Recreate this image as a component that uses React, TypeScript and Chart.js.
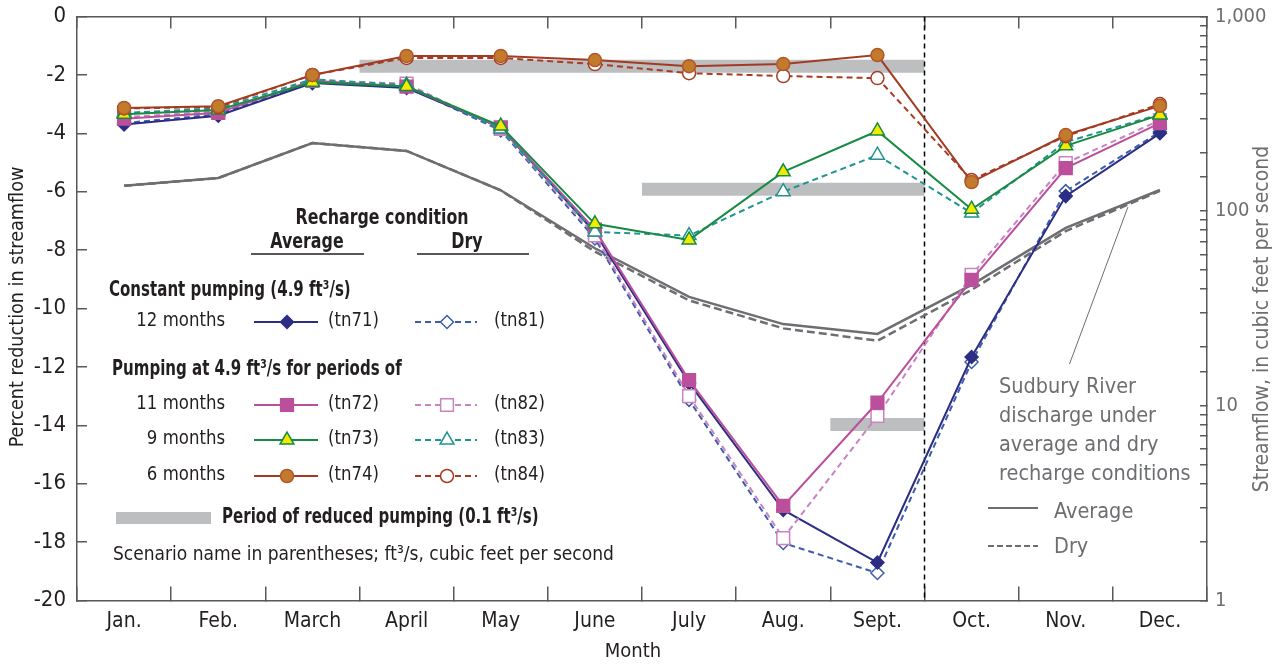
import React, { useEffect, useRef } from "react";
import { Chart, registerables } from "chart.js";

Chart.register(...registerables);

// ---------- data ----------
const months = ["Jan.", "Feb.", "March", "April", "May", "June", "July", "Aug.", "Sept.", "Oct.", "Nov.", "Dec."];

// Percent reduction in streamflow (left axis)
const tn71 = [-3.7, -3.4, -2.28, -2.45, -3.8, -7.4, -12.55, -16.9, -18.7, -11.66, -6.15, -4.0];
const tn81 = [-3.65, -3.35, -2.25, -2.4, -3.9, -7.6, -13.13, -18.03, -19.06, -11.83, -5.98, -3.95];
const tn72 = [-3.5, -3.3, -2.2, -2.4, -3.8, -7.3, -12.45, -16.76, -13.22, -9.02, -5.19, -3.65];
const tn82 = [-3.45, -3.25, -2.2, -2.3, -3.85, -7.5, -13.0, -17.86, -13.68, -8.85, -5.02, -3.55];
const tn73 = [-3.35, -3.2, -2.25, -2.4, -3.75, -7.1, -7.65, -5.32, -3.92, -6.6, -4.43, -3.37];
const tn83 = [-3.3, -3.15, -2.15, -2.35, -3.85, -7.38, -7.5, -6.0, -4.75, -6.73, -4.3, -3.35];
const tn74 = [-3.13, -3.07, -2.0, -1.35, -1.35, -1.49, -1.7, -1.63, -1.32, -5.67, -4.06, -3.06];
const tn84 = [-3.15, -3.1, -2.0, -1.42, -1.42, -1.63, -1.94, -2.04, -2.11, -5.6, -4.1, -3.0];

// Sudbury River streamflow, ft3/s (right log axis)
const flowAverage = [135, 148, 224, 204, 128, 64.5, 36.3, 26.3, 23.4, 41.8, 82, 128.5];
const flowDry = [135, 148, 224, 204, 128, 62, 34.8, 25.0, 21.6, 39.4, 79, 127];

// Periods of reduced pumping (month index range, level on left axis)
const reducedStart = [3, 6, 8];
const reducedEnd = [8, 8, 8];
const reducedLevel = [-1.7, -5.92, -13.97];

// Dashed divider between Sept. and Oct. (month-boundary position)
const dividerPos = 8.5;

// Leader line from annotation to the streamflow curves (x position, streamflow)
const leaderX = [10.04, 10.66];
const leaderFlow = [16.4, 105];

const leftTicks = [0, -2, -4, -6, -8, -10, -12, -14, -16, -18, -20];
const rightTickLabels: Record<number, string> = { 1: "1", 10: "10", 100: "100", 1000: "1,000" };

// ---------- styles ----------
const FONT = '"DejaVu Sans Condensed", "Liberation Sans Narrow", "Arial Narrow", sans-serif';
const BLACK = "#231f20";
const GRAY = "#6d6e71";
const AXIS = "#58595b";
const BAR = "#bcbec0";

type Sty = { line: string; dash: boolean; point: string; r: number; fill: string; pb: string };
const S: Record<string, Sty> = {
  tn71: { line: "#2b2e83", dash: false, point: "rectRot", r: 6.5, fill: "#2b2e83", pb: "#2b2e83" },
  tn81: { line: "#3c5dae", dash: true, point: "rectRot", r: 6.5, fill: "#ffffff", pb: "#3c5dae" },
  tn72: { line: "#bc4f9c", dash: false, point: "rect", r: 9, fill: "#bc4f9c", pb: "#bc4f9c" },
  tn82: { line: "#c983c0", dash: true, point: "rect", r: 9, fill: "#ffffff", pb: "#c983c0" },
  tn73: { line: "#178a43", dash: false, point: "triangle", r: 8, fill: "#f4ea00", pb: "#178a43" },
  tn83: { line: "#1f9490", dash: true, point: "triangle", r: 8, fill: "#ffffff", pb: "#1f9490" },
  tn74: { line: "#a23b22", dash: false, point: "circle", r: 6.5, fill: "#c27a2c", pb: "#b2572a" },
  tn84: { line: "#a83a22", dash: true, point: "circle", r: 6.5, fill: "#ffffff", pb: "#a83a22" },
};

function series(label: string, data: number[], st: Sty) {
  return {
    type: "line" as const,
    label,
    data,
    xAxisID: "x",
    yAxisID: "y",
    borderColor: st.line,
    borderWidth: 2,
    borderDash: st.dash ? [6, 4] : [],
    pointStyle: st.point,
    pointRadius: st.r,
    pointBackgroundColor: st.fill,
    pointBorderColor: st.pb,
    pointBorderWidth: 1.5,
    tension: 0,
    fill: false,
    order: 1,
  };
}

function drawMarker(ctx: CanvasRenderingContext2D, st: Sty, x: number, y: number) {
  ctx.save();
  ctx.fillStyle = st.fill;
  ctx.strokeStyle = st.pb;
  ctx.lineWidth = 1.5;
  ctx.setLineDash([]);
  ctx.beginPath();
  const r = st.r;
  if (st.point === "circle") {
    ctx.arc(x, y, r, 0, Math.PI * 2);
  } else if (st.point === "rect") {
    const h = r * Math.SQRT1_2;
    ctx.rect(x - h, y - h, 2 * h, 2 * h);
  } else if (st.point === "rectRot") {
    ctx.moveTo(x, y - r);
    ctx.lineTo(x + r, y);
    ctx.lineTo(x, y + r);
    ctx.lineTo(x - r, y);
    ctx.closePath();
  } else if (st.point === "triangle") {
    ctx.moveTo(x, y - r);
    ctx.lineTo(x + r * 0.866, y + r * 0.5);
    ctx.lineTo(x - r * 0.866, y + r * 0.5);
    ctx.closePath();
  }
  ctx.fill();
  ctx.stroke();
  ctx.restore();
}

function txt(
  ctx: CanvasRenderingContext2D,
  s: string,
  x: number,
  y: number,
  o: { size?: number; bold?: boolean; color?: string; align?: CanvasTextAlign; sx?: number } = {}
) {
  ctx.save();
  ctx.font = `${o.bold ? "bold " : ""}${o.size || 20}px ${FONT}`;
  ctx.fillStyle = o.color || BLACK;
  ctx.textAlign = o.align || "left";
  ctx.textBaseline = "middle";
  ctx.translate(x, y);
  ctx.scale(o.sx || 1, 1);
  ctx.fillText(s, 0, 0);
  ctx.restore();
}

function hline(ctx: CanvasRenderingContext2D, x1: number, x2: number, y: number, color: string, w: number, dash: number[] = []) {
  ctx.save();
  ctx.strokeStyle = color;
  ctx.lineWidth = w;
  ctx.setLineDash(dash);
  ctx.beginPath();
  ctx.moveTo(x1, y);
  ctx.lineTo(x2, y);
  ctx.stroke();
  ctx.restore();
}

const B = { size: 22, bold: true, sx: 0.76 };
const R = { size: 20, sx: 0.92 };

const overlayPlugin = {
  id: "overlay",
  afterDraw(chart: any) {
    const ctx: CanvasRenderingContext2D = chart.ctx;
    const ca = chart.chartArea;
    // axis titles
    ctx.save();
    ctx.translate(18, 307);
    ctx.rotate(-Math.PI / 2);
    txt(ctx, "Percent reduction in streamflow", 0, 0, { size: 20, align: "center", sx: 0.98 });
    ctx.restore();
    ctx.save();
    ctx.translate(1263, 319);
    ctx.rotate(-Math.PI / 2);
    txt(ctx, "Streamflow, in cubic feet per second", 0, 0, { size: 21, align: "center", color: GRAY });
    ctx.restore();
    txt(ctx, "Month", (ca.left + ca.right) / 2 - 9, 652, { size: 20, align: "center" });

    // legend block
    txt(ctx, "Recharge condition", 382, 218, { ...B, sx: 0.8, align: "center" });
    txt(ctx, "Average", 307, 242, { ...B, sx: 0.8, align: "center" });
    txt(ctx, "Dry", 467, 242, { ...B, sx: 0.8, align: "center" });
    hline(ctx, 251, 364, 254, BLACK, 1.5);
    hline(ctx, 417, 529, 254, BLACK, 1.5);

    txt(ctx, "Constant pumping (4.9 ft\u00b3/s)", 109, 290, B);
    txt(ctx, "Pumping at 4.9 ft\u00b3/s for periods of", 112, 369, B);

    const rows: [string, string, string, number][] = [
      ["12 months", "tn71", "tn81", 321],
      ["11 months", "tn72", "tn82", 404],
      ["9 months", "tn73", "tn83", 439],
      ["6 months", "tn74", "tn84", 475],
    ];
    for (const [lab, a, d, y] of rows) {
      txt(ctx, lab, 225, y, { ...R, align: "right" });
      hline(ctx, 254, 318, y + 1, S[a].line, 2);
      drawMarker(ctx, S[a], 287, y + 1);
      txt(ctx, `(${a})`, 328, y, R);
      hline(ctx, 415, 477, y + 1, S[d].line, 2, [6, 4]);
      drawMarker(ctx, S[d], 447, y + 1);
      txt(ctx, `(${d})`, 494, y, R);
    }

    ctx.save();
    ctx.fillStyle = BAR;
    ctx.fillRect(116, 512, 95, 12);
    ctx.restore();
    txt(ctx, "Period of reduced pumping (0.1 ft\u00b3/s)", 222, 517, B);
    txt(ctx, "Scenario name in parentheses; ft\u00b3/s, cubic feet per second", 113, 555, { size: 20, sx: 0.95 });

    // streamflow annotation
    const ann = ["Sudbury River", "discharge under", "average and dry", "recharge conditions"];
    ann.forEach((s, i) => txt(ctx, s, 999, 387 + i * 29, { size: 21.5, color: GRAY }));
    hline(ctx, 988, 1038, 508, GRAY, 2);
    txt(ctx, "Average", 1054, 512, { size: 21.5, color: GRAY });
    hline(ctx, 988, 1038, 546, GRAY, 2, [6, 3]);
    txt(ctx, "Dry", 1054, 547, { size: 21.5, color: GRAY });
  },
};

export default function App() {
  const ref = useRef<HTMLCanvasElement>(null);
  useEffect(() => {
    const datasets: any[] = [
      series("tn74", tn74, S.tn74),
      series("tn84", tn84, S.tn84),
      series("tn73", tn73, S.tn73),
      series("tn83", tn83, S.tn83),
      series("tn72", tn72, S.tn72),
      series("tn82", tn82, S.tn82),
      series("tn71", tn71, S.tn71),
      series("tn81", tn81, S.tn81),
      {
        type: "line",
        label: "Average flow",
        data: flowAverage,
        xAxisID: "x",
        yAxisID: "y1",
        borderColor: GRAY,
        borderWidth: 2.5,
        pointRadius: 0,
        tension: 0,
        order: 2,
      },
      {
        type: "line",
        label: "Dry flow",
        data: flowDry,
        xAxisID: "x",
        yAxisID: "y1",
        borderColor: GRAY,
        borderWidth: 2.5,
        borderDash: [8, 4],
        pointRadius: 0,
        tension: 0,
        order: 2,
      },
      {
        type: "line",
        label: "leader",
        data: leaderX.map((x, i) => ({ x, y: leaderFlow[i] })),
        xAxisID: "xl",
        yAxisID: "y1",
        borderColor: GRAY,
        borderWidth: 1,
        pointRadius: 0,
        order: 2,
      },
      {
        type: "line",
        label: "divider",
        data: [
          { x: dividerPos, y: 0 },
          { x: dividerPos, y: -20 },
        ],
        xAxisID: "xl",
        yAxisID: "y",
        borderColor: "#000000",
        borderWidth: 1.5,
        borderDash: [5, 4],
        pointRadius: 0,
        order: 3,
      },
      ...reducedLevel.map((lv, i) => ({
        type: "line",
        label: "reduced" + i,
        data: [
          { x: reducedStart[i] - 0.5, y: lv },
          { x: reducedEnd[i] + 0.5, y: lv },
        ],
        xAxisID: "xl",
        yAxisID: "y",
        borderColor: BAR,
        borderWidth: 13,
        borderCapStyle: "butt",
        pointRadius: 0,
        order: 4,
      })),
    ];

    const tickFont = { family: FONT, size: 21 };
    const chart = new Chart(ref.current as HTMLCanvasElement, {
      type: "line",
      data: { labels: months, datasets },
      plugins: [overlayPlugin],
      options: {
        animation: false,
        responsive: true,
        maintainAspectRatio: false,
        layout: { padding: 0 },
        plugins: { legend: { display: false }, tooltip: { enabled: false } },
        scales: {
          x: {
            type: "category",
            position: "bottom",
            offset: true,
            grid: { offset: true, drawOnChartArea: false, tickLength: -14, color: AXIS, lineWidth: 1.5 },
            border: { color: AXIS, width: 1.5 },
            ticks: { font: tickFont, color: BLACK, padding: 22, maxRotation: 0, autoSkip: false },
            afterFit: (s: any) => {
              s.height = 64.5;
              s.paddingLeft = 0;
              s.paddingRight = 0;
            },
          },
          xTop: {
            type: "category",
            position: "top",
            offset: true,
            grid: { offset: true, drawOnChartArea: false, tickLength: -12, color: AXIS, lineWidth: 1.5 },
            border: { color: AXIS, width: 1.5 },
            ticks: { display: false },
            afterFit: (s: any) => {
              s.height = 16.5;
              s.paddingLeft = 0;
              s.paddingRight = 0;
            },
          },
          xl: { type: "linear", axis: "x", position: "bottom", display: false, min: -0.5, max: 11.5 },
          y: {
            type: "linear",
            position: "left",
            min: -20,
            max: 0,
            afterBuildTicks: (s: any) => {
              s.ticks = leftTicks.map((v) => ({ value: v }));
            },
            ticks: { font: { family: FONT, size: 22 }, color: BLACK, padding: 21 },
            grid: { drawOnChartArea: false, tickLength: -10, color: AXIS, lineWidth: 1.5 },
            border: { color: AXIS, width: 1.5 },
            afterFit: (s: any) => {
              s.width = 77;
              s.paddingTop = 0;
              s.paddingBottom = 0;
            },
          },
          y1: {
            type: "logarithmic",
            position: "right",
            min: 1,
            max: 1000,
            ticks: {
              font: { family: FONT, size: 20 },
              color: GRAY,
              padding: 15,
              autoSkip: false,
              callback: (v: any) => (rightTickLabels[Number(v)] !== undefined ? rightTickLabels[Number(v)] : ""),
            },
            grid: { drawOnChartArea: false, tickLength: -7, color: AXIS, lineWidth: 1.5 },
            border: { color: AXIS, width: 1.5 },
            afterFit: (s: any) => {
              s.width = 69;
              s.paddingTop = 0;
              s.paddingBottom = 0;
            },
          },
        },
      } as any,
    } as any);
    return () => chart.destroy();
  }, []);
  return (
    <div style={{ position: "fixed", left: 0, top: 0, width: 1276, height: 665, background: "#ffffff" }}>
      <canvas ref={ref} />
    </div>
  );
}
